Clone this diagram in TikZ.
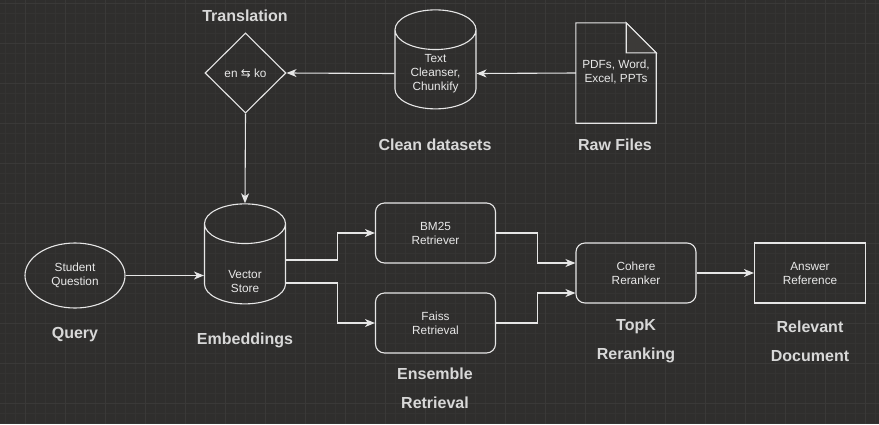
\documentclass[tikz,border=0pt]{standalone}
\usepackage{fontspec}
\setmainfont{Liberation Sans}
\newfontfamily\symfont{DejaVu Sans}
\usetikzlibrary{positioning, arrows.meta, shapes.geometric}

\definecolor{canvas}{HTML}{2F2E2D}
\definecolor{gridmajor}{HTML}{3A3938}
\definecolor{gridminor}{HTML}{343332}
\definecolor{edge}{HTML}{E6E6E6}
\definecolor{ink}{HTML}{E8E8E8}
\definecolor{caption}{HTML}{D8D8D8}
\definecolor{foldfill}{HTML}{3C3A38}

\begin{document}
\begin{tikzpicture}[x=1pt, y=-1pt,
    txt/.style={text=ink, align=center, font=\fontsize{11.8}{14}\selectfont},
    lbl/.style={text=caption, align=center, font=\fontsize{16}{29}\selectfont\bfseries},
    box/.style={txt, draw=edge, line width=1.1pt, rounded corners=9pt, minimum width=120pt, minimum height=60pt},
    plainbox/.style={txt, draw=edge, line width=1.1pt, minimum width=111pt, minimum height=60pt},
    store/.style={txt, cylinder, shape border rotate=90, aspect=0.7, text width=50pt, draw=edge, line width=1.1pt, minimum width=81pt, minimum height=100pt},
    decision/.style={txt, diamond, draw=edge, line width=1.1pt, minimum width=81pt, minimum height=80pt, inner sep=0pt},
    oval/.style={txt, ellipse, draw=edge, line width=1.1pt, minimum width=100pt, minimum height=65pt},
    link/.style={draw=edge, line width=1.1pt, -{Stealth[length=10pt, width=8pt, inset=3pt]}}
]
% canvas and grid
\fill[canvas] (0,0) rectangle (879,424);
\useasboundingbox (0,0) rectangle (879,424);
\foreach \x in {5,15,...,875} \draw[gridminor, line width=0.5pt] (\x,0) -- (\x,424);
\foreach \y in {3,13,...,423} \draw[gridminor, line width=0.5pt] (0,\y) -- (879,\y);
\foreach \x in {25,65,...,865} \draw[gridmajor, line width=0.8pt] (\x,0) -- (\x,424);
\foreach \y in {3,43,...,403} \draw[gridmajor, line width=0.8pt] (0,\y) -- (879,\y);

% top row
\node[decision] (trans) at (245.5,73) {en {\symfont ⇆} ko};
\node[store, minimum height=99pt] (clean) at (435.5,73.5) {Text\\Cleanser,\\Chunkify};
\node[minimum width=80pt, minimum height=100pt] (raw) at (616,73) {};
\node[txt] (rawtxt) at (616,72) {PDFs, Word,\\Excel, PPTs};
\draw[edge, line width=1.1pt] (raw.north west) -- ([xshift=-30pt]raw.north east)
    -- ([yshift=-30pt]raw.north east) -- (raw.south east) -- (raw.south west) -- cycle;
\filldraw[fill=foldfill, draw=edge, line width=1.1pt] ([xshift=-30pt]raw.north east)
    |- ([yshift=-30pt]raw.north east) -- cycle;

% bottom row
\node[oval] (query) at (75,275.5) {Student\\Question};
\node[store] (vs) at (245,268) {\phantom{Vector}};
\node[txt] (vstxt) at ([yshift=-13pt]vs.center) {Vector\\Store};
\node[box] (bm) at (435.5,233) {BM25\\Retriever};
\node[box] (fa) at (435.5,323) {Faiss\\Retrieval};
\node[box] (co) at (636,273) {Cohere\\Reranker};
\node[plainbox] (ans) at (810,273) {Answer\\Reference};

% captions
\node[lbl] (translbl) at (245,16) {Translation};
\node[lbl] (cleanlbl) at (435,145) {Clean datasets};
\node[lbl] (rawlbl) at (615,145) {Raw Files};
\node[lbl] (querylbl) at (75,335) {Query};
\node[lbl] (vslbl) at (245,340) {Embeddings};
\node[lbl] (enslbl) at (435,388) {Ensemble\\Retrieval};
\node[lbl] (colbl) at (636,341) {TopK\\Reranking};
\node[lbl] (anslbl) at (810,341) {Relevant\\Document};

% connectors
\draw[link] (raw.west) -- (clean.east);
\draw[link] (clean.west) -- (trans.east);
\draw[link] (trans.south) -- (vs.north);
\draw[link] (query.east) -- (vs.west |- query.east);
\draw[link] ([yshift=8pt]vs.east) -- ++(51,0) |- (bm.west);
\draw[link] ([yshift=-15pt]vs.east) -- ++(51,0) |- (fa.west);
\draw[link] (bm.east) -- ++(41,0) |- ([yshift=10pt]co.west);
\draw[link] (fa.east) -- ++(41,0) |- ([yshift=-20pt]co.west);
\draw[link] (co.east) -- (ans.west);
\end{tikzpicture}
\end{document}
